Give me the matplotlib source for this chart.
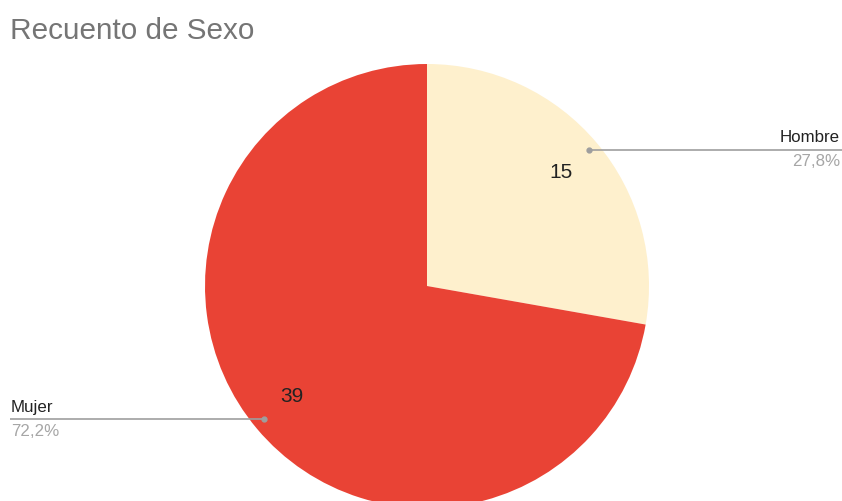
import matplotlib
matplotlib.use("Agg")
import matplotlib.pyplot as plt

categories = ["Hombre", "Mujer"]
values = [15, 39]
pct_labels = ["27,8%", "72,2%"]
colors = ["#FEF0CD", "#E94335"]

W, H = 842, 502
fig = plt.figure(figsize=(W / 100, H / 100), dpi=100)
ax = fig.add_axes([0, 0, 1, 1])

cx, cy, r = 427, H - 287, 222
wedges, _ = ax.pie(values, colors=colors, startangle=90, counterclock=False,
                   center=(cx, cy), radius=r, frame=True)
ax.set_xlim(0, W)
ax.set_ylim(0, H)
ax.set_aspect("equal")
ax.axis("off")

font = "Liberation Sans"
fig.text(10 / W, 1 - 31 / H, "Recuento de Sexo", fontsize=21.4, color="#757575",
         family=font, va="center", ha="left")

# values inside slices
ax.text(561, H - 172, str(values[0]), fontsize=15, color="#222222", family=font,
        ha="center", va="center")
ax.text(292, H - 397, str(values[1]), fontsize=15, color="#222222", family=font,
        ha="center", va="center")

line_c = "#9E9E9E"
# Hombre leader
ax.plot([589, 842], [H - 151, H - 151], color=line_c, lw=1.2, solid_capstyle="butt")
ax.plot([589], [H - 151], "o", color=line_c, ms=3.5)
ax.text(840, H - 138, categories[0], fontsize=12.2, color="#222222", family=font,
        ha="right", va="center")
ax.text(840, H - 162, pct_labels[0], fontsize=12.2, color="#A6A6A6", family=font,
        ha="right", va="center")

# Mujer leader
ax.plot([10, 264], [H - 420, H - 420], color=line_c, lw=1.2, solid_capstyle="butt")
ax.plot([264], [H - 420], "o", color=line_c, ms=3.5)
ax.text(11, H - 408, categories[1], fontsize=12.2, color="#222222", family=font,
        ha="left", va="center")
ax.text(11, H - 432, pct_labels[1], fontsize=12.2, color="#A6A6A6", family=font,
        ha="left", va="center")

fig.savefig("out.png", dpi=100)
